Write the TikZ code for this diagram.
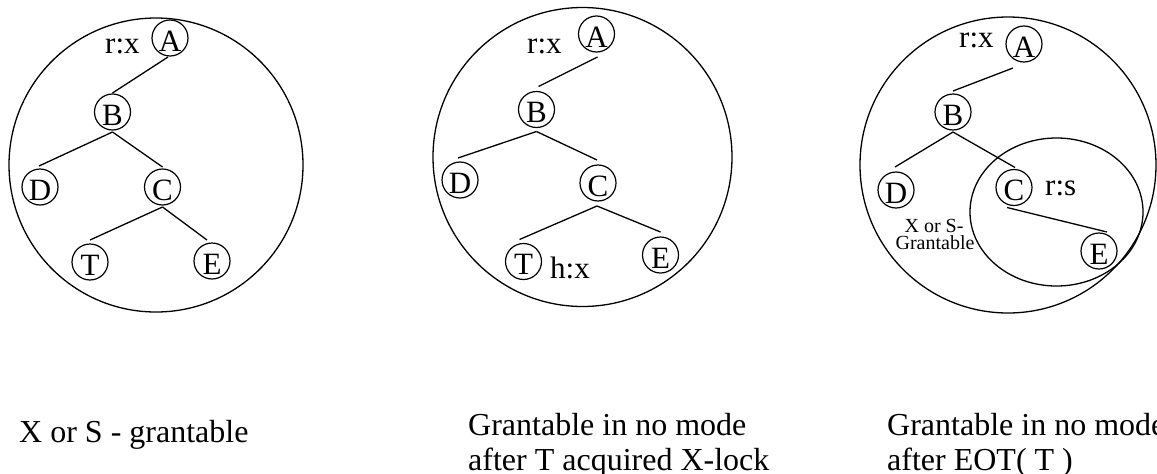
\documentclass[tikz,border=0pt]{standalone}
\usepackage{fontspec}
\setmainfont{Liberation Serif}
\usetikzlibrary{calc}
\begin{document}
\begin{tikzpicture}[x=1pt,y=-1pt,
  tnode/.style={circle,draw,line width=1.2pt,inner sep=0pt,minimum size=36pt,
    font=\fontsize{31}{31}\selectfont,text height=26pt,text depth=0pt},
  lbl/.style={anchor=base west,inner sep=0pt,font=\fontsize{31}{31}\selectfont},
  captxt/.style={anchor=base west,inner sep=0pt,font=\fontsize{32}{32}\selectfont},
  smalltxt/.style={anchor=base,inner sep=0pt,font=\fontsize{20}{20}\selectfont},
  link/.style={line width=1.3pt},
  ring/.style={draw,line width=1.3pt}]
\useasboundingbox (0,0) rectangle (1157,474);
% ---------- panel 1 ----------
\draw[ring] (156,165) circle[radius=147];
\node[tnode] (A1) at (170,38) {A};
\node[tnode] (B1) at (112.5,112) {B};
\node[tnode] (D1) at (40,187) {D};
\node[tnode] (C1) at (162.5,187) {C};
\node[tnode] (T1) at (90,262) {T};
\node[tnode] (E1) at (212,261) {E};
\node[lbl] (rx1) at (105,53) {r:x};
\draw[link] ($(A1)+(-2,19)$) -- ($(B1)+(0,-19)$);
\draw[link] ($(B1)+(0,20)$) -- ($(D1)+(-1,-21)$);
\draw[link] ($(B1)+(0,20)$) -- ($(C1)+(0,-20)$);
\draw[link] ($(C1)+(0,20)$) -- ($(T1)+(0,-22)$);
\draw[link] ($(C1)+(0,20)$) -- ($(E1)+(-5,-21)$);
% ---------- panel 2 ----------
\draw[ring] (582.5,157) circle[radius=149.5];
\node[tnode] (A2) at (596.5,34) {A};
\node[tnode] (B2) at (536.5,109.5) {B};
\node[tnode] (D2) at (460,180) {D};
\node[tnode] (C2) at (598,183) {C};
\node[tnode] (T2) at (523.5,261.5) {T};
\node[tnode] (E2) at (660.5,255) {E};
\node[lbl] (rx2) at (527,53) {r:x};
\node[lbl] (hx2) at (550,278) {h:x};
\draw[link] ($(A2)+(1,23)$) -- ($(B2)+(2,-23)$);
\draw[link] ($(B2)+(0,22)$) -- ($(D2)+(-2,-22)$);
\draw[link] ($(B2)+(0,22)$) -- ($(C2)+(-1,-23)$);
\draw[link] ($(C2)+(-1,23)$) -- ($(T2)+(-4,-22)$);
\draw[link] ($(C2)+(-1,23)$) -- ($(E2)+(0,-23)$);
% ---------- panel 3 ----------
\draw[ring] (1008,165) circle[radius=148];
\draw[ring] (1056.5,212) ellipse[x radius=86.5,y radius=74];
\node[tnode] (A3) at (1024,44) {A};
\node[tnode] (B3) at (953,112) {B};
\node[tnode] (D3) at (896,190) {D};
\node[tnode] (C3) at (1014,187.5) {C};
\node[tnode] (E3) at (1099,251) {E};
\node[lbl] (rx3) at (959,47) {r:x};
\node[lbl] (rs3) at (1045,195) {r:s};
\node[smalltxt] (g3a) at (934,232) {X or S-};
\node[smalltxt] (g3b) at (935,249) {Grantable};
\draw[link] ($(A3)+(-11,24)$) -- ($(B3)+(0,-21)$);
\draw[link] ($(B3)+(0,20)$) -- ($(D3)+(-1,-23)$);
\draw[link] ($(B3)+(0,20)$) -- ($(C3)+(1,-20)$);
\draw[link] ($(C3)+(-7,20)$) -- ($(E3)+(8,-19)$);
% ---------- captions ----------
\node[captxt] (cap1) at (19,442) {X or S - grantable};
\node[captxt] (cap2a) at (468,435) {Grantable in no mode};
\node[captxt] (cap2b) at (468,470) {after T acquired X-lock};
\node[captxt] (cap3a) at (887,435) {Grantable in no mode};
\node[captxt] (cap3b) at (887,470) {after EOT( T )};
\end{tikzpicture}
\end{document}
